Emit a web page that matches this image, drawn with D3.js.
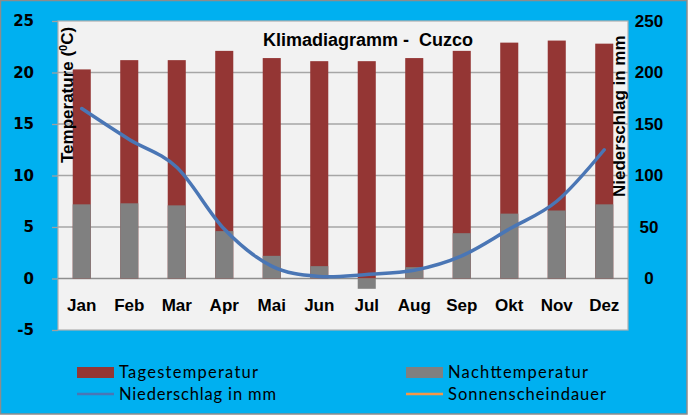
<!DOCTYPE html>
<html>
<head>
<meta charset="utf-8">
<script src="https://cdn.jsdelivr.net/npm/d3@7"></script>
<style>
    body { margin: 0; overflow: hidden; }
    svg { display: block; }
</style>
</head>
<body>
<svg id="chart" width="688" height="415"></svg>
<script>
// Chart data
var months = ["Jan", "Feb", "Mar", "Apr", "Mai", "Jun", "Jul", "Aug", "Sep", "Okt", "Nov", "Dez"];
var dayTemp = [20.3, 21.2, 21.2, 22.1, 21.4, 21.1, 21.1, 21.4, 22.1, 22.9, 23.1, 22.8];
var nightTemp = [7.2, 7.3, 7.1, 4.6, 2.2, 1.2, -1.0, 1.1, 4.4, 6.3, 6.6, 7.2];
var rainfall = [165, 135, 108, 48, 12, 2, 4, 8, 22, 48, 75, 125];
var tempTicks = [-5, 0, 5, 10, 15, 20, 25];
var rainTicks = [0, 50, 100, 150, 200, 250];
var legendItems = [
    {name: "Tagestemperatur", type: "rect", color: "#943634"},
    {name: "Niederschlag in mm", type: "line", color: "#4A76B5"},
    {name: "Nachttemperatur", type: "rect", color: "#808080"},
    {name: "Sonnenscheindauer", type: "line", color: "#F79646"}
];

var config = {
    width: 688,
    height: 415,
    plot: {left: 58, right: 628, top: 21, bottom: 330},
    background: "#00B0F0",
    plotColor: "#F2F2F2",
    gridColor: "#A6A6A6",
    axisFont: "'Liberation Sans', Arial, sans-serif"
};

var svg = d3.select("#chart");
var p = config.plot;

/**
 * Scales: temperature on the left, rainfall on the right (10 mm per degree)
 */
var x = d3.scaleBand()
    .domain(months)
    .range([p.left, p.right])
    .paddingInner(0.62)
    .paddingOuter(0.31);

var yTemp = d3.scaleLinear()
    .domain([-5, 25])
    .range([p.bottom, p.top]);

var yRain = d3.scaleLinear()
    .domain([-50, 250])
    .range([p.bottom, p.top]);

// Background and outer frame
svg.append("rect")
    .attr("x", 0.5).attr("y", 0.5)
    .attr("width", config.width - 1.5).attr("height", config.height - 1.5)
    .attr("fill", config.background)
    .attr("stroke", "#8C8C8C")
    .attr("stroke-width", 1.5);

// Plot area
svg.append("rect")
    .attr("x", p.left).attr("y", p.top)
    .attr("width", p.right - p.left).attr("height", p.bottom - p.top)
    .attr("fill", config.plotColor)
    .attr("stroke", "#B0B0B0")
    .attr("stroke-width", 1.2);

// Horizontal grid lines
svg.append("g")
    .selectAll("line")
    .data(tempTicks.filter(function (t) { return t > -5 && t < 25; }))
    .enter()
    .append("line")
    .attr("x1", p.left).attr("x2", p.right)
    .attr("y1", function (d) { return yTemp(d); })
    .attr("y2", function (d) { return yTemp(d); })
    .attr("stroke", function (d) { return d === 0 ? "#8E8E8E" : config.gridColor; })
    .attr("stroke-width", 1.3);

// Left axis (temperature), plain hyphen for negatives
var leftAxis = svg.append("g")
    .attr("transform", "translate(" + p.left + ",0)")
    .call(d3.axisLeft(yTemp)
        .tickValues(tempTicks)
        .tickFormat(function (d) { return String(d); })
        .tickSize(6)
        .tickPadding(18));
leftAxis.select(".domain").remove();
leftAxis.selectAll(".tick line").attr("stroke", "#A0A0A0").attr("stroke-width", 1.3);
leftAxis.selectAll(".tick text")
    .attr("fill", "#000")
    .style("font-family", "'DejaVu Sans', Verdana, sans-serif")
    .style("font-size", "15px")
    .style("font-weight", "bold");

// Right axis (rainfall)
var rightAxis = svg.append("g")
    .attr("transform", "translate(" + p.right + ",0)")
    .call(d3.axisRight(yRain).tickValues(rainTicks).tickSize(0).tickPadding(21));
rightAxis.select(".domain").remove();
rightAxis.selectAll(".tick text")
    .attr("fill", "#000")
    .attr("text-anchor", "middle")
    .style("font-family", config.axisFont)
    .style("font-size", "17px")
    .style("font-weight", "bold");

// Month labels
var bottomAxis = svg.append("g")
    .attr("transform", "translate(0," + yTemp(0) + ")")
    .call(d3.axisBottom(x).tickSize(0).tickPadding(20));
bottomAxis.select(".domain").remove();
bottomAxis.selectAll(".tick text")
    .attr("fill", "#000")
    .style("font-family", config.axisFont)
    .style("font-size", "17px")
    .style("font-weight", "bold");

// Day temperature bars (behind), night temperature bars (in front)
svg.append("g")
    .selectAll("rect")
    .data(dayTemp)
    .enter()
    .append("rect")
    .attr("x", function (d, i) { return x(months[i]); })
    .attr("width", x.bandwidth())
    .attr("y", function (d) { return yTemp(Math.max(d, 0)); })
    .attr("height", function (d) { return Math.abs(yTemp(d) - yTemp(0)); })
    .attr("fill", "#943634");

svg.append("g")
    .selectAll("rect")
    .data(nightTemp)
    .enter()
    .append("rect")
    .attr("x", function (d, i) { return x(months[i]); })
    .attr("width", x.bandwidth())
    .attr("y", function (d) { return yTemp(Math.max(d, 0)); })
    .attr("height", function (d) { return Math.abs(yTemp(d) - yTemp(0)); })
    .attr("fill", "#808080");

// Rainfall line, smoothed like the spreadsheet
var rainLine = d3.line()
    .x(function (d, i) { return x(months[i]) + x.bandwidth() / 2; })
    .y(function (d) { return yRain(d); })
    .curve(d3.curveCardinal.tension(0));

svg.append("path")
    .datum(rainfall)
    .attr("d", rainLine)
    .attr("fill", "none")
    .attr("stroke", "#4A76B5")
    .attr("stroke-width", 3.5)
    .attr("stroke-linecap", "round");

// Title
svg.append("text")
    .attr("x", 368).attr("y", 46)
    .attr("text-anchor", "middle")
    .style("white-space", "pre")
    .style("font-family", config.axisFont)
    .style("font-size", "18px")
    .style("font-weight", "bold")
    .text("Klimadiagramm -  Cuzco");

// Axis titles
var tempTitle = svg.append("text")
    .attr("transform", "translate(73,163) rotate(-90)")
    .style("font-family", config.axisFont)
    .style("font-size", "17px")
    .style("font-weight", "bold");
tempTitle.append("tspan").text("Temperature (");
tempTitle.append("tspan").attr("dy", -6).style("font-size", "11px").text("0");
tempTitle.append("tspan").attr("dy", 6).text("C)");

svg.append("text")
    .attr("transform", "translate(625,197) rotate(-90)")
    .style("font-family", config.axisFont)
    .style("font-size", "17px")
    .style("font-weight", "bold")
    .text("Niederschlag in mm");

/**
 * Legend: two columns, two rows
 */
var legendPos = [
    {x: 77, y: 372, textLength: 139},
    {x: 77, y: 394, textLength: 157},
    {x: 406, y: 372, textLength: 140},
    {x: 406, y: 394, textLength: 158}
];

legendItems.forEach(function (item, i) {
    var pos = legendPos[i],
        g = svg.append("g").attr("transform", "translate(" + pos.x + "," + pos.y + ")");

    if (item.type === "rect") {
        g.append("rect")
            .attr("x", 0).attr("y", -5)
            .attr("width", 37).attr("height", 11)
            .attr("fill", item.color);
    } else {
        g.append("line")
            .attr("x1", 0).attr("x2", 37)
            .attr("stroke", item.color)
            .attr("stroke-width", 2.5);
    }

    g.append("text")
        .attr("x", 42).attr("y", 6)
        .attr("textLength", pos.textLength)
        .attr("lengthAdjust", "spacing")
        .attr("fill", "#000")
        .style("font-family", "Lato, 'Open Sans', sans-serif")
        .style("font-size", "16.5px")
        .text(item.name);
});
</script>
</body>
</html>
